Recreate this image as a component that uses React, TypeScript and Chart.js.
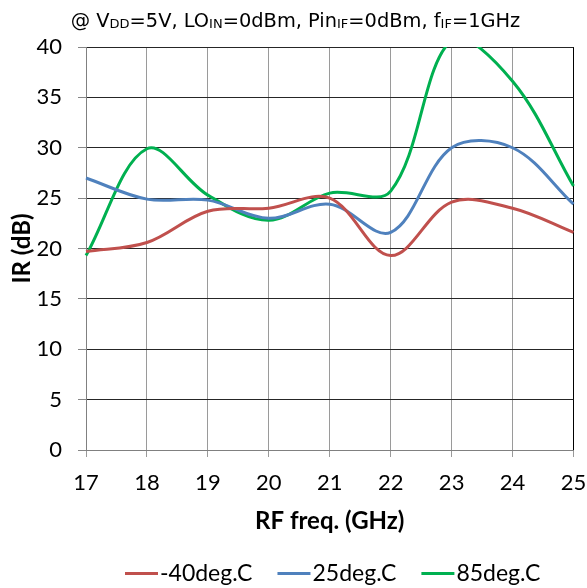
import React, { useEffect, useRef } from "react";
import { Chart, registerables } from "chart.js";

Chart.register(...registerables);

// ---- data ----
const freqs = [17, 18, 19, 20, 21, 22, 23, 24, 25];
const irM40 = [19.7, 20.6, 23.7, 24.0, 25.0, 19.3, 24.6, 24.0, 21.6];
const ir25 = [27.0, 24.9, 24.8, 23.0, 24.4, 21.6, 30.0, 30.0, 24.4];
const ir85 = [19.3, 29.9, 25.3, 22.8, 25.5, 25.7, 40.7, 36.6, 26.2];
const seriesNames = ["-40deg.C", "25deg.C", "85deg.C"];
const seriesColors = ["#C0504D", "#4F81BD", "#00B050"];
const xTitle = "RF freq. (GHz)";
const yTitle = "IR (dB)";
// title pieces: [text, isSubscript]
const titleParts: [string, boolean][] = [
  ["@ V", false],
  ["DD", true],
  ["=5V, LO", false],
  ["IN", true],
  ["=0dBm, Pin", false],
  ["IF", true],
  ["=0dBm, f", false],
  ["IF", true],
  ["=1GHz", false],
];

const FONT = "Lato";

const titlePlugin = {
  id: "subTitle",
  afterDraw(chart: any) {
    const ctx = chart.ctx as CanvasRenderingContext2D;
    ctx.save();
    const mainFont = "19.4px 'DejaVu Sans'";
    const subFont = "13px 'DejaVu Sans'";
    let total = 0;
    for (const [t, sub] of titleParts) {
      ctx.font = sub ? subFont : mainFont;
      total += ctx.measureText(t).width;
    }
    let x = 295.5 - total / 2;
    ctx.fillStyle = "#000";
    ctx.textAlign = "left";
    ctx.textBaseline = "alphabetic";
    for (const [t, sub] of titleParts) {
      ctx.font = sub ? subFont : mainFont;
      ctx.fillText(t, x, sub ? 28 : 27);
      x += ctx.measureText(t).width;
    }
    ctx.restore();
  },
};

const legendPlugin = {
  id: "bottomLegend",
  afterDraw(chart: any) {
    const ctx = chart.ctx as CanvasRenderingContext2D;
    ctx.save();
    ctx.font = `23px ${FONT}`;
    ctx.textAlign = "left";
    ctx.textBaseline = "middle";
    const y = 573.5;
    let x = 125;
    chart.data.datasets.forEach((ds: any) => {
      ctx.strokeStyle = ds.borderColor;
      ctx.lineWidth = 3;
      ctx.beginPath();
      ctx.moveTo(x, y);
      ctx.lineTo(x + 33, y);
      ctx.stroke();
      ctx.fillStyle = "#000";
      ctx.fillText(ds.label, x + 35, y);
      x += 35 + ctx.measureText(ds.label).width + 25;
    });
    ctx.restore();
  },
};

export default function App() {
  const canvasRef = useRef<HTMLCanvasElement | null>(null);

  useEffect(() => {
    if (!canvasRef.current) return;
    const series = [irM40, ir25, ir85];
    const chart = new Chart(canvasRef.current, {
      type: "line",
      data: {
        datasets: series.map((vals, i) => ({
          label: seriesNames[i],
          data: freqs.map((f, j) => ({ x: f, y: vals[j] })),
          borderColor: seriesColors[i],
          backgroundColor: seriesColors[i],
          borderWidth: 3,
          pointRadius: 0,
          tension: 0.35,
          fill: false,
          clip: { left: 3, right: 3, top: 0, bottom: 3 },
        })),
      },
      options: {
        animation: false,
        responsive: true,
        maintainAspectRatio: false,
        layout: { padding: { top: 47, left: 0, right: 0, bottom: 0 } },
        elements: { line: { capBezierPoints: false } },
        plugins: {
          legend: { display: false },
          tooltip: { enabled: false },
          title: { display: false },
        },
        scales: {
          x: {
            type: "linear",
            min: 17,
            max: 25,
            ticks: {
              stepSize: 1,
              color: "#000",
              font: { family: FONT, size: 22 },
              padding: 13,
              maxRotation: 0,
              autoSkip: false,
            },
            grid: {
              color: (c: any) => (c.tick && c.tick.value === 25 ? "#000" : "#9a9a9a"),
              lineWidth: 1,
              tickLength: 7,
              tickColor: "#9a9a9a",
            },
            border: { display: true, color: "#808080", width: 1 },
            title: {
              display: true,
              text: xTitle,
              color: "#000",
              font: { family: FONT, size: 24, weight: "bold" },
              padding: { top: 0, bottom: 52.6 },
            },
            afterFit: (s: any) => {
              s.height = 138;
              s.paddingRight = 13.5;
              s.paddingLeft = 13;
            },
          },
          y: {
            type: "linear",
            min: 0,
            max: 40,
            ticks: {
              stepSize: 5,
              color: "#000",
              font: { family: FONT, size: 22 },
              padding: 16,
            },
            grid: {
              color: "#262626",
              lineWidth: 1,
              tickLength: 8,
              tickColor: "#868686",
            },
            border: { display: true, color: "#808080", width: 1 },
            title: {
              display: true,
              text: yTitle,
              color: "#000",
              font: { family: FONT, size: 24, weight: "bold" },
              padding: { top: 7.6, bottom: 0 },
            },
            afterFit: (s: any) => {
              s.width = 86;
            },
          },
        },
      },
      plugins: [titlePlugin, legendPlugin],
    });
    return () => chart.destroy();
  }, []);

  return (
    <div style={{ position: "fixed", left: 0, top: 0, width: 587, height: 588, background: "#fff" }}>
      <canvas ref={canvasRef} />
    </div>
  );
}
